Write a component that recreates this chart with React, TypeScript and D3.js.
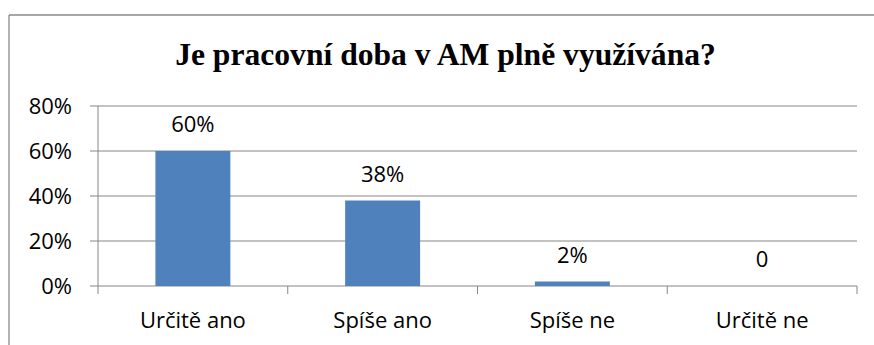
import React from "react";
import * as d3 from "d3";

const categories = ["Určitě ano", "Spíše ano", "Spíše ne", "Určitě ne"];
const values = [0.6, 0.38, 0.02, 0];
const valueLabels = ["60%", "38%", "2%", "0"];
const yTicks = [0, 0.2, 0.4, 0.6, 0.8];
const title = "Je pracovní doba v AM plně využívána?";

const W = 874;
const H = 345;
const plot = { left: 98, right: 857, top: 106, bottom: 286 };

export default function App() {
  const x = d3.scaleBand<string>().domain(categories).range([plot.left, plot.right]).padding(0);
  const y = d3.scaleLinear().domain([0, 0.8]).range([plot.bottom, plot.top]);
  const bw = x.bandwidth() * 0.395;
  const fmt = d3.format(".0%");
  const font = "'Open Sans', sans-serif";
  const grid = "#868686";
  const boundaries = d3.range(categories.length + 1).map((i) => plot.left + i * x.bandwidth());

  return (
    <svg width={W} height={H} style={{ position: "absolute", left: 0, top: 0, background: "#fff" }}>
      <rect x={0} y={0} width={W} height={H} fill="#fff" />
      {/* outer frame */}
      <line x1={9} x2={W} y1={15} y2={15} stroke="#8a8a8a" strokeWidth={1.3} />
      <line x1={9} x2={9} y1={15} y2={H} stroke="#8a8a8a" strokeWidth={1.3} />
      <text
        x={445.5}
        y={65}
        textAnchor="middle"
        fontFamily="'Liberation Serif', 'Times New Roman', serif"
        fontWeight="bold"
        fontSize={31.6}
        fill="#000"
      >
        {title}
      </text>
      {/* gridlines & y ticks */}
      {yTicks.map((t) => (
        <g key={t}>
          <line x1={plot.left - 8} x2={t === 0 ? plot.right : plot.right} y1={y(t)} y2={y(t)} stroke={grid} strokeWidth={1} />
          <text x={72} y={y(t) + 7.5} textAnchor="end" fontFamily={font} fontSize={22} fill="#000">
            {fmt(t)}
          </text>
        </g>
      ))}
      {/* y axis */}
      <line x1={plot.left} x2={plot.left} y1={plot.top} y2={plot.bottom} stroke={grid} strokeWidth={1} />
      {/* category ticks */}
      {boundaries.map((bx, i) => (
        <line key={i} x1={bx} x2={bx} y1={plot.bottom} y2={plot.bottom + 8} stroke={grid} strokeWidth={1} />
      ))}
      {/* bars */}
      {categories.map((c, i) => {
        const cx = (x(c) as number) + x.bandwidth() / 2;
        return (
          <g key={c}>
            {values[i] > 0 && (
              <rect x={cx - bw / 2} y={y(values[i])} width={bw} height={plot.bottom - y(values[i])} fill="#4F81BD" />
            )}
            <text x={cx} y={y(values[i]) - 19} textAnchor="middle" fontFamily={font} fontSize={22} fill="#000">
              {valueLabels[i]}
            </text>
            <text x={cx} y={328} textAnchor="middle" fontFamily={font} fontSize={22} fill="#000">
              {c}
            </text>
          </g>
        );
      })}
    </svg>
  );
}
